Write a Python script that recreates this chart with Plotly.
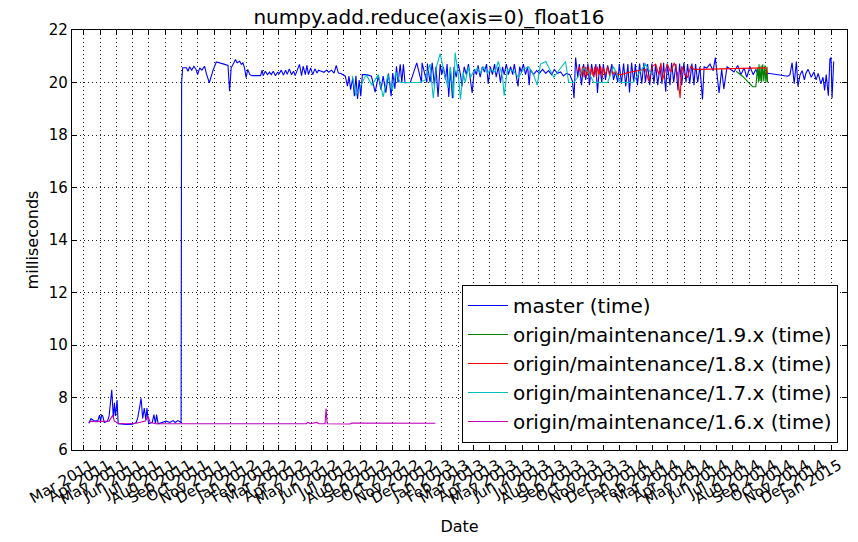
import plotly.graph_objects as go

# ---------------- data ----------------
master_dates = [
    "2011-03-11", "2011-03-15", "2011-03-22", "2011-03-28", "2011-03-31", "2011-04-02", "2011-04-04",
    "2011-04-06", "2011-04-09", "2011-04-15", "2011-04-18", "2011-04-23", "2011-04-26", "2011-04-28",
    "2011-04-30", "2011-05-03", "2011-05-05", "2011-05-20", "2011-06-01", "2011-06-08", "2011-06-11",
    "2011-06-17", "2011-06-20", "2011-06-23", "2011-06-26", "2011-06-28", "2011-07-01", "2011-07-08",
    "2011-07-11", "2011-07-14", "2011-07-16", "2011-07-19", "2011-08-03", "2011-08-10", "2011-08-16",
    "2011-08-20", "2011-08-25", "2011-08-31",
    "2011-09-01", "2011-09-03", "2011-09-10", "2011-09-13", "2011-09-16", "2011-09-20", "2011-09-24",
    "2011-09-28", "2011-10-01", "2011-10-05", "2011-10-09", "2011-10-14", "2011-10-18", "2011-10-23",
    "2011-10-30", "2011-11-05", "2011-11-21", "2011-11-27", "2011-11-30", "2011-12-03", "2011-12-08",
    "2011-12-11", "2011-12-14", "2011-12-19", "2011-12-22", "2011-12-25", "2011-12-28", "2011-12-31",
    "2012-01-03", "2012-01-07", "2012-01-11", "2012-01-27", "2012-01-30", "2012-02-01", "2012-02-05",
    "2012-02-09", "2012-02-13", "2012-02-16", "2012-02-20", "2012-02-24", "2012-02-28", "2012-03-02",
    "2012-03-06", "2012-03-10", "2012-03-14", "2012-03-17", "2012-03-21", "2012-03-25", "2012-03-29",
    "2012-04-01", "2012-04-05", "2012-04-09", "2012-04-13", "2012-04-16", "2012-04-20", "2012-04-23",
    "2012-04-26", "2012-04-30", "2012-05-04", "2012-05-08", "2012-05-12", "2012-05-15", "2012-05-20",
    "2012-05-25", "2012-05-30", "2012-06-03", "2012-06-08", "2012-06-13", "2012-06-17", "2012-06-21",
    "2012-06-26", "2012-06-30", "2012-07-04", "2012-07-08", "2012-07-11", "2012-07-14", "2012-07-18",
    "2012-07-21", "2012-07-24", "2012-07-27", "2012-07-30", "2012-08-02", "2012-08-05", "2012-08-13",
    "2012-08-22", "2012-08-29", "2012-09-04", "2012-09-09", "2012-09-13", "2012-09-18", "2012-09-23",
    "2012-09-28", "2012-10-01", "2012-10-05", "2012-10-08", "2012-10-11", "2012-10-15", "2012-10-18",
    "2012-10-21", "2012-10-24",
    "2012-11-03", "2012-11-15", "2012-11-24", "2012-11-25", "2012-12-04", "2012-12-05", "2012-12-10",
    "2012-12-14", "2012-12-18", "2012-12-21", "2012-12-25", "2012-12-29", "2013-01-01",
    "2013-01-04", "2013-01-08", "2013-01-11", "2013-01-14", "2013-01-17", "2013-01-21", "2013-01-24",
    "2013-01-28", "2013-02-01", "2013-02-05", "2013-02-08", "2013-02-12", "2013-02-16", "2013-02-20",
    "2013-02-23", "2013-02-27", "2013-03-03", "2013-03-07", "2013-03-10", "2013-03-14", "2013-03-18",
    "2013-03-22", "2013-03-26", "2013-03-29", "2013-04-02", "2013-04-06", "2013-04-10", "2013-04-13",
    "2013-04-17", "2013-04-21", "2013-04-25", "2013-04-28", "2013-05-02", "2013-05-06", "2013-05-10",
    "2013-05-14", "2013-05-17", "2013-05-21", "2013-05-24", "2013-05-27", "2013-05-30", "2013-06-03",
    "2013-06-07", "2013-06-11", "2013-06-14", "2013-06-16", "2013-06-22", "2013-06-28", "2013-07-03",
    "2013-07-09", "2013-07-15", "2013-07-20", "2013-07-26", "2013-07-31", "2013-08-06", "2013-08-12",
    "2013-08-17", "2013-08-23", "2013-08-29", "2013-09-03", "2013-09-06", "2013-09-09", "2013-09-13",
    "2013-09-16", "2013-09-20", "2013-09-24", "2013-09-28", "2013-10-02", "2013-10-05", "2013-10-09",
    "2013-10-13", "2013-10-17", "2013-10-20", "2013-10-24", "2013-10-28", "2013-10-31", "2013-11-04",
    "2013-11-08", "2013-11-12", "2013-11-16", "2013-11-19", "2013-11-23", "2013-11-27", "2013-11-30",
    "2013-12-04", "2013-12-08", "2013-12-12", "2013-12-16", "2013-12-19", "2013-12-23", "2013-12-27",
    "2013-12-30", "2014-01-03", "2014-01-07", "2014-01-11", "2014-01-15", "2014-01-18", "2014-01-22",
    "2014-01-26", "2014-01-30", "2014-02-03", "2014-02-06", "2014-02-10", "2014-02-14", "2014-02-18",
    "2014-02-21", "2014-02-25", "2014-02-28", "2014-03-05", "2014-03-08", "2014-03-12", "2014-03-16",
    "2014-03-20", "2014-03-23", "2014-03-27", "2014-03-31", "2014-04-04", "2014-04-07", "2014-04-11",
    "2014-04-15", "2014-04-19", "2014-04-22", "2014-04-26", "2014-04-30", "2014-05-05", "2014-05-08",
    "2014-05-13", "2014-05-19", "2014-05-25", "2014-05-29", "2014-06-05", "2014-06-10", "2014-06-14",
    "2014-06-20", "2014-06-27", "2014-07-03", "2014-07-10", "2014-07-16", "2014-07-22", "2014-07-27",
    "2014-08-02", "2014-08-08", "2014-08-13", "2014-08-19", "2014-08-25", "2014-08-30", "2014-09-05",
    "2014-10-12", "2014-10-16", "2014-10-20", "2014-10-24", "2014-10-28", "2014-10-31", "2014-11-04",
    "2014-11-08", "2014-11-12", "2014-11-15", "2014-11-19", "2014-11-25", "2014-11-30", "2014-12-04",
    "2014-12-08", "2014-12-13", "2014-12-17", "2014-12-20", "2014-12-23", "2014-12-27", "2014-12-30",
    "2015-01-01", "2015-01-03", "2015-01-06",
]
master_ms = [
    7.02, 7.20, 7.10, 7.12, 7.33, 7.10, 7.33,
    7.30, 7.05, 7.10, 7.30, 8.29, 7.20, 7.80,
    7.30, 7.90, 7.00, 6.97, 6.98, 7.05, 7.25,
    7.97, 7.20, 7.60, 7.15, 7.60, 7.00, 7.05,
    7.35, 7.00, 7.35, 7.00, 7.10, 7.05, 7.12,
    7.05, 7.12, 7.05,
    19.99, 20.56, 20.56, 20.43, 20.60, 20.47, 20.62,
    20.50, 20.30, 20.56, 20.47, 20.62, 20.30, 19.99,
    20.47, 20.78, 20.69, 20.65, 19.67, 20.56, 20.75,
    20.88, 20.75, 20.81, 20.69, 20.75, 20.56, 20.18,
    20.50, 20.30, 20.26, 20.26, 20.47, 20.26, 20.43,
    20.30, 20.39, 20.30, 20.43, 20.26, 20.39, 20.34,
    20.47, 20.28, 20.47, 20.31, 20.52, 20.30, 20.43,
    20.26, 20.47, 20.69, 20.26, 20.62, 20.30, 20.65,
    20.30, 20.56, 20.30, 20.52, 20.36, 20.47, 20.43,
    20.39, 20.47, 20.39, 20.47, 20.36, 20.65, 20.36,
    20.34, 20.30, 20.24, 19.86, 20.24, 19.73, 20.18,
    19.48, 20.26, 19.37, 20.09, 19.48, 20.30, 20.30,
    20.24, 19.63, 20.24, 19.73, 20.24, 19.61, 20.34,
    19.48, 20.36, 19.76, 20.62, 19.99, 20.69, 19.99,
    20.69, 19.99,
    20.00, 20.75, 20.00, 20.75, 20.00, 20.72, 20.00,
    20.75, 19.90, 20.60, 19.45, 20.70, 20.30,
    20.60, 20.10, 20.70, 19.45, 20.50, 19.40, 20.60,
    20.20, 20.70, 20.30, 19.85, 20.60, 20.30, 20.70,
    20.20, 19.60, 20.50, 20.30, 20.65, 20.20, 20.60,
    20.40, 20.70, 19.95, 20.60, 20.30, 20.70, 20.20,
    20.60, 20.00, 20.60, 20.30, 20.70, 20.30, 20.60,
    20.30, 20.70, 20.20, 19.85, 20.60, 20.40, 20.70,
    20.30, 20.60, 19.90, 20.50, 20.30, 20.45, 20.35,
    20.50, 20.35, 20.45, 20.30, 20.50, 20.35, 20.40,
    20.25, 20.35, 20.30, 20.05, 19.40, 20.95, 20.20,
    20.70, 19.90, 20.70, 20.10, 20.72, 19.90, 20.70,
    20.20, 20.70, 19.60, 20.70, 20.00, 20.70, 20.10,
    20.65, 20.30, 20.70, 20.10, 20.40, 20.00, 20.70,
    19.95, 20.72, 19.85, 20.70, 19.62, 20.75, 20.00,
    20.70, 19.90, 20.72, 19.95, 20.75, 20.00, 20.70,
    19.90, 20.72, 19.95, 20.70, 19.90, 20.60, 19.95,
    20.75, 19.65, 20.72, 19.90, 20.75, 20.00, 20.70,
    19.70, 20.72, 19.90, 20.75, 20.00, 20.70, 19.95,
    20.72, 19.90, 20.70, 20.00, 20.60, 19.35, 20.60,
    20.55, 20.70, 20.45, 20.95, 19.60, 20.50, 19.75,
    20.60, 20.50, 20.40, 20.65, 20.30, 20.55, 20.20,
    20.60, 20.30, 20.50, 20.20, 20.45, 20.30, 20.35,
    20.24, 20.30, 20.75, 19.95, 20.80, 19.85, 20.30,
    20.45, 20.10, 20.35, 20.50, 20.20, 20.40, 20.10,
    20.35, 19.95, 20.20, 19.70, 20.30, 19.50, 20.90,
    20.95, 19.40, 20.80,
]

m19_dates = [
    "2014-07-07", "2014-07-19", "2014-08-07", "2014-08-13", "2014-08-16", "2014-08-18", "2014-08-19",
    "2014-08-21", "2014-08-23", "2014-08-24", "2014-08-26", "2014-08-28", "2014-08-30", "2014-09-01",
    "2014-09-03", "2014-09-04",
]
m19_ms = [
    20.43, 20.24, 19.84, 19.84, 20.56, 20.00, 20.69,
    20.05, 20.65, 20.00, 20.69, 20.05, 20.65, 20.00,
    20.60, 20.00,
]

m18_dates = [
    "2013-09-13", "2013-09-16", "2013-09-19", "2013-09-22", "2013-09-25", "2013-09-28", "2013-09-30",
    "2013-10-03", "2013-10-06", "2013-10-09", "2013-10-12", "2013-10-15", "2013-10-18", "2013-10-20",
    "2013-10-23", "2013-10-26", "2013-10-29", "2013-10-31", "2013-11-04", "2013-11-08", "2013-11-12",
    "2013-11-16", "2013-11-19", "2013-11-23", "2013-11-27", "2013-12-03", "2013-12-21", "2014-01-09",
    "2014-01-18", "2014-01-24", "2014-01-31", "2014-02-06", "2014-02-12", "2014-02-16", "2014-02-19",
    "2014-02-28", "2014-03-06", "2014-03-13", "2014-03-19", "2014-03-24", "2014-03-27", "2014-04-02",
    "2014-04-07", "2014-04-13", "2014-04-19", "2014-04-29", "2014-06-08", "2014-07-16", "2014-08-23",
    "2014-09-01", "2014-09-04",
]
m18_ms = [
    20.43, 20.60, 20.25, 20.62, 20.20, 20.60, 20.25,
    20.62, 20.20, 20.55, 20.25, 20.60, 20.20, 20.60,
    20.30, 20.62, 20.20, 20.55, 20.30, 20.60, 20.25,
    20.50, 20.30, 20.45, 20.30, 20.30, 20.40, 20.48,
    20.50, 20.05, 20.62, 20.70, 20.30, 20.75, 20.10,
    20.70, 20.40, 20.75, 20.35, 19.41, 20.62, 20.30,
    20.20, 20.62, 20.50, 20.50, 20.52, 20.55, 20.56,
    20.56, 20.30,
]

m17_dates = [
    "2012-07-17", "2012-07-24", "2012-08-12", "2012-08-23", "2012-09-04", "2012-09-13", "2012-09-22",
    "2012-09-30", "2012-10-07", "2012-10-15", "2012-11-03", "2012-11-21", "2012-12-01", "2012-12-10",
    "2012-12-16", "2012-12-22", "2012-12-29", "2013-01-06", "2013-01-13", "2013-01-17", "2013-01-23",
    "2013-01-26", "2013-02-01", "2013-02-05", "2013-02-10", "2013-02-14", "2013-02-20", "2013-02-24",
    "2013-03-01", "2013-03-09", "2013-03-14", "2013-03-20", "2013-03-28", "2013-04-02", "2013-04-11",
    "2013-04-17", "2013-04-25", "2013-04-28", "2013-05-04", "2013-05-15", "2013-05-25", "2013-06-03",
    "2013-06-13", "2013-06-22", "2013-06-29", "2013-07-05", "2013-07-15", "2013-07-30", "2013-08-21",
    "2013-08-27", "2013-09-05", "2013-09-13", "2013-09-24", "2013-10-03", "2013-10-13", "2013-11-08",
    "2013-11-19", "2013-12-02", "2013-12-25", "2014-01-18", "2014-01-30",
]
m17_ms = [
    20.25, 19.50, 20.30, 19.90, 20.30, 19.45, 20.30,
    19.70, 20.40, 20.00, 20.00, 20.00, 20.10, 20.70,
    19.40, 20.60, 21.10, 20.30, 19.80, 20.60, 19.41,
    21.14, 20.30, 19.35, 20.40, 20.00, 20.60, 20.20,
    20.40, 20.55, 20.35, 20.60, 20.35, 20.50, 20.40,
    20.80, 20.20, 19.50, 20.50, 20.45, 20.20, 20.50,
    20.60, 20.30, 19.90, 20.70, 20.80, 20.20, 20.80,
    20.00, 20.00, 20.20, 20.55, 20.40, 20.00, 20.00,
    20.60, 20.00, 20.00, 20.70, 20.30,
]

m16_dates = [
    "2011-03-11", "2011-03-15", "2011-03-24", "2011-04-06", "2011-04-18", "2011-04-25", "2011-04-28",
    "2011-05-05", "2011-05-20", "2011-06-08", "2011-06-25", "2011-06-30", "2011-07-04", "2011-07-15",
    "2011-09-01", "2011-12-01", "2012-04-22", "2012-04-25", "2012-04-30", "2012-05-11", "2012-05-16",
    "2012-05-27", "2012-05-29", "2012-05-31", "2012-07-13", "2012-07-16", "2012-12-20",
]
m16_ms = [
    7.03, 7.10, 7.08, 7.10, 7.10, 7.33, 7.10,
    7.02, 7.00, 7.02, 7.10, 7.28, 7.05, 7.00,
    7.00, 7.00, 7.00, 7.05, 7.00, 7.05, 7.00,
    7.00, 7.58, 7.00, 6.99, 7.03, 7.02,
]

series = [
    ("master (time)", master_dates, master_ms, "#0000ff"),
    ("origin/maintenance/1.9.x (time)", m19_dates, m19_ms, "#008000"),
    ("origin/maintenance/1.8.x (time)", m18_dates, m18_ms, "#ff0000"),
    ("origin/maintenance/1.7.x (time)", m17_dates, m17_ms, "#00bfbf"),
    ("origin/maintenance/1.6.x (time)", m16_dates, m16_ms, "#bf00bf"),
]

# ---------------- figure ----------------
FONT = "DejaVu Sans"
fig = go.Figure()
for name, xs, ys, col in series:
    fig.add_trace(go.Scatter(x=xs, y=ys, mode="lines", name=name,
                             line=dict(color=col, width=1.1)))

fig.update_layout(
    width=858, height=542,
    margin=dict(l=72, r=11, t=30, b=92),
    paper_bgcolor="white", plot_bgcolor="white",
    font=dict(family=FONT, size=16, color="black"),
    title=dict(text="numpy.add.reduce(axis=0)_float16", x=0.5, xanchor="center",
               y=1, yref="container", yanchor="top", pad=dict(t=10),
               font=dict(family=FONT, size=20, color="black")),
    showlegend=True,
    legend=dict(x=0.988, y=0.017, xanchor="right", yanchor="bottom",
                bgcolor="white", bordercolor="black", borderwidth=1.2,
                font=dict(family=FONT, size=20, color="black"),
                tracegroupgap=0, itemwidth=40),
)
fig.update_xaxes(
    type="date", range=["2011-02-07 10:00", "2015-01-31"], automargin=False,
    tick0="2011-03-01", dtick="M1", tickformat="%b %Y", tickangle=-30,
    ticklabelshift=8,
    ticks="inside", ticklen=5, tickcolor="black", showline=True, linecolor="black",
    linewidth=1.2, mirror="ticks", showgrid=True, gridcolor="#222", griddash="1px,3px",
    gridwidth=1, zeroline=False, tickfont=dict(family=FONT, size=15),
    title=dict(text="Date", font=dict(family=FONT, size=16), standoff=13),
)
fig.update_yaxes(
    range=[6, 22], dtick=2, tick0=6, automargin=False,
    ticks="inside", ticklen=5, tickcolor="black", showline=True, linecolor="black",
    linewidth=1.2, mirror="ticks", showgrid=True, gridcolor="#222", griddash="1px,3px",
    gridwidth=1, zeroline=False, tickfont=dict(family=FONT, size=15),
    title=dict(text="milliseconds", font=dict(family=FONT, size=16), standoff=6),
)

fig.write_html("out.html", config={"displayModeBar": False},
               post_script="document.body.style.margin='0';document.body.style.overflow='hidden';")
